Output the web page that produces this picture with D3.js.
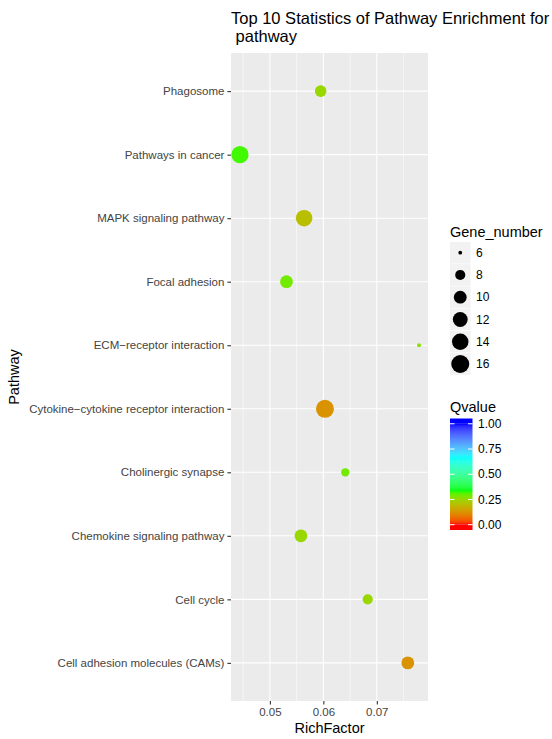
<!DOCTYPE html>
<html>
<head>
<meta charset="utf-8">
<script src="https://cdn.jsdelivr.net/npm/d3@7"></script>
<style>
  body { margin: 0; background: #fff; }
  text { font-family: "Liberation Sans", Arial, Helvetica, sans-serif; }
</style>
</head>
<body>
<div id="chart"></div>
<script>
// pathways, top to bottom as drawn
var pathways = ["Phagosome", "Pathways in cancer", "MAPK signaling pathway", "Focal adhesion",
  "ECM\u2212receptor interaction", "Cytokine\u2212cytokine receptor interaction", "Cholinergic synapse",
  "Chemokine signaling pathway", "Cell cycle", "Cell adhesion molecules (CAMs)"];
var richFactor = [0.0595, 0.0444, 0.0564, 0.0531, 0.0779, 0.0603, 0.0641, 0.0558, 0.0683, 0.0758];
var geneNumber = [9, 15, 14, 10, 6, 16, 7, 10, 8, 10];
var qValue = [0.25, 0.32, 0.2, 0.29, 0.27, 0.125, 0.29, 0.25, 0.25, 0.125];

var xTicks = [0.05, 0.06, 0.07];
var xMinor = [0.045, 0.055, 0.065, 0.075];
var sizeBreaks = [6, 8, 10, 12, 14, 16];
var qBreaks = [0, 0.25, 0.5, 0.75, 1];

var width = 552, height = 739;
var panel = { left: 231, right: 428, top: 53, bottom: 701 };

var svg = d3.select('#chart').append('svg')
  .attr('width', width)
  .attr('height', height);

// scales (ggplot style 5% expansion on x)
var xMin = d3.min(richFactor), xMax = d3.max(richFactor);
var pad = (xMax - xMin) * 0.05;
var x = d3.scaleLinear()
  .domain([xMin - pad, xMax + pad])
  .range([panel.left, panel.right]);

var y = d3.scalePoint()
  .domain(pathways)
  .range([panel.top, panel.bottom])
  .padding(0.6);

// point diameter follows ggplot area scale, size 1..6
var sizeScale = d3.scaleSqrt().domain([0, 10]).range([1, 6]);
function radius(g) {
  return (sizeScale(g - 6) * 2.845 + 0.95) / 2;
}

var color = d3.scaleLinear()
  .domain([0, 1 / 3, 2 / 3, 1])
  .range(["#FF0000", "#00FF00", "#00FFFF", "#0000FF"])
  .interpolate(d3.interpolateLab);

// panel background and grid
svg.append('rect')
  .attr('x', panel.left).attr('y', panel.top)
  .attr('width', panel.right - panel.left)
  .attr('height', panel.bottom - panel.top)
  .attr('fill', '#EBEBEB');

svg.selectAll('.minor')
  .data(xMinor)
  .enter().append('line')
  .attr('x1', d => x(d)).attr('x2', d => x(d))
  .attr('y1', panel.top).attr('y2', panel.bottom)
  .attr('stroke', '#fff').attr('stroke-width', 0.55);

svg.selectAll('.vmajor')
  .data(xTicks)
  .enter().append('line')
  .attr('x1', d => x(d)).attr('x2', d => x(d))
  .attr('y1', panel.top).attr('y2', panel.bottom)
  .attr('stroke', '#fff').attr('stroke-width', 1.1);

svg.selectAll('.hmajor')
  .data(pathways)
  .enter().append('line')
  .attr('x1', panel.left).attr('x2', panel.right)
  .attr('y1', d => y(d)).attr('y2', d => y(d))
  .attr('stroke', '#fff').attr('stroke-width', 1.1);

// axes
var xAxis = svg.append('g')
  .attr('transform', 'translate(0,' + panel.bottom + ')')
  .call(d3.axisBottom(x).tickValues(xTicks).tickSize(3.6).tickPadding(3).tickFormat(d3.format('.2f')));
var yAxis = svg.append('g')
  .attr('transform', 'translate(' + panel.left + ',0)')
  .call(d3.axisLeft(y).tickSize(3.6).tickPadding(3));

[xAxis, yAxis].forEach(function (a) {
  a.select('.domain').remove();
  a.selectAll('line').attr('stroke', '#333').attr('stroke-width', 1.1);
  a.selectAll('text').attr('fill', '#444').style('font-size', '11.5px')
    .style('font-family', '"Liberation Sans", Arial, sans-serif');
});

// points
svg.selectAll('.pt')
  .data(pathways)
  .enter().append('circle')
  .attr('cx', (d, i) => x(richFactor[i]))
  .attr('cy', d => y(d))
  .attr('r', (d, i) => radius(geneNumber[i]))
  .attr('fill', (d, i) => color(qValue[i]));

// titles
svg.append('text')
  .attr('x', panel.left).attr('y', 23.5)
  .style('font-size', '16.5px')
  .text('Top 10 Statistics of Pathway Enrichment for');
svg.append('text')
  .attr('x', panel.left).attr('y', 41.5)
  .style('font-size', '16.5px')
  .attr('xml:space', 'preserve')
  .text(' pathway');

svg.append('text')
  .attr('x', (panel.left + panel.right) / 2).attr('y', 733)
  .attr('text-anchor', 'middle')
  .style('font-size', '14.5px')
  .text('RichFactor');

svg.append('text')
  .attr('transform', 'translate(19,' + ((panel.top + panel.bottom) / 2) + ') rotate(-90)')
  .attr('text-anchor', 'middle')
  .style('font-size', '14.5px')
  .text('Pathway');

// size legend
var legX = 450;
svg.append('text')
  .attr('x', legX).attr('y', 237)
  .style('font-size', '14.5px')
  .text('Gene_number');

var keyY = d3.scaleLinear().domain([6, 16]).range([252.7, 364]);
var keys = svg.selectAll('.key')
  .data(sizeBreaks)
  .enter().append('g')
  .attr('transform', d => 'translate(' + legX + ',' + keyY(d) + ')');
keys.append('rect')
  .attr('x', 0).attr('y', -10.8)
  .attr('width', 20.5).attr('height', 21.6)
  .attr('fill', '#F2F2F2');
keys.append('circle')
  .attr('cx', 10.25).attr('cy', 0)
  .attr('r', d => radius(d))
  .attr('fill', '#000');
keys.append('text')
  .attr('x', 26).attr('y', 4.2)
  .style('font-size', '12px')
  .text(d => d);

// colour legend
svg.append('text')
  .attr('x', legX).attr('y', 412)
  .style('font-size', '14.5px')
  .text('Qvalue');

var barTop = 418.5, barBottom = 530, barW = 22.5;
var qY = d3.scaleLinear().domain([0, 1]).range([barBottom - 5.3, barTop + 5.3]);

var grad = svg.append('defs').append('linearGradient')
  .attr('id', 'qgrad')
  .attr('x1', 0).attr('y1', 1).attr('x2', 0).attr('y2', 0);
grad.selectAll('stop')
  .data(d3.range(0, 1.0001, 0.02))
  .enter().append('stop')
  .attr('offset', d => d)
  .attr('stop-color', d => color(d));

svg.append('rect')
  .attr('x', legX).attr('y', qY(1))
  .attr('width', barW).attr('height', qY(0) - qY(1))
  .attr('fill', 'url(#qgrad)');
svg.append('rect')
  .attr('x', legX).attr('y', barTop)
  .attr('width', barW).attr('height', qY(1) - barTop)
  .attr('fill', color(1));
svg.append('rect')
  .attr('x', legX).attr('y', qY(0))
  .attr('width', barW).attr('height', barBottom - qY(0))
  .attr('fill', color(0));

var qTicks = svg.selectAll('.qtick')
  .data(qBreaks)
  .enter().append('g');
qTicks.append('line')
  .attr('x1', legX).attr('x2', legX + 4.5)
  .attr('y1', d => qY(d)).attr('y2', d => qY(d))
  .attr('stroke', '#fff').attr('stroke-width', 1);
qTicks.append('line')
  .attr('x1', legX + barW - 4.5).attr('x2', legX + barW)
  .attr('y1', d => qY(d)).attr('y2', d => qY(d))
  .attr('stroke', '#fff').attr('stroke-width', 1);
qTicks.append('text')
  .attr('x', legX + barW + 5.5).attr('y', d => qY(d) + 4.2)
  .style('font-size', '12px')
  .text(d => d3.format('.2f')(d));
</script>
</body>
</html>
